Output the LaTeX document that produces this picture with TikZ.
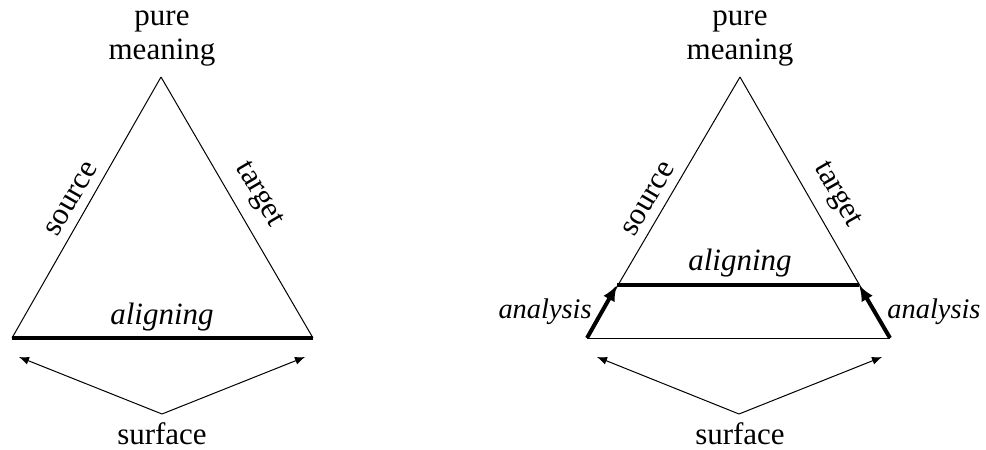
\documentclass[tikz,border=0pt]{standalone}
\usepackage{fontspec}
\setmainfont{Liberation Serif}
\usetikzlibrary{arrows.meta}
\begin{document}
\begin{tikzpicture}[x=0.5pt,y=-0.5pt,
  lbl/.style={font=\fontsize{15.5pt}{17pt}\selectfont, inner sep=1.5pt},
  anlbl/.style={font=\fontsize{14.2pt}{17pt}\selectfont\itshape, inner sep=0pt},
  thin/.style={line width=0.5pt},
  thick line/.style={line width=2pt},
  surfarrow/.style={line width=0.5pt,-{Latex[length=5pt,width=4pt]}},
  anarrow/.style={line width=2pt,-{Latex[length=8pt,width=6.5pt]}}]
\useasboundingbox (0,0) rectangle (986,450);
% ---------- left triangle ----------
\coordinate (LA) at (161,77);
\coordinate (LL) at (12,338);
\coordinate (LR) at (313,338);
\node[lbl,anchor=base] (Lpure) at (162,25) {pure};
\node[lbl,anchor=base] (Lmean) at (162,59) {meaning};
\draw[thin] (LL) -- (LA) node[lbl,midway,sloped,above=3pt] (Lsrc) {source};
\draw[thin] (LA) -- (LR) node[lbl,midway,sloped,above=4.5pt] (Ltgt) {target};
\draw[thick line] (LL) -- (LR);
\node[lbl,anchor=base] (Lalign) at (162,324) {\itshape aligning};
\coordinate (LV) at (162,414);
\coordinate (LVl) at (19,357);
\coordinate (LVr) at (305,357);
\draw[surfarrow] (LV) -- (LVl);
\draw[surfarrow] (LV) -- (LVr);
\node[lbl,anchor=base] (Lsurf) at (162,444) {surface};
% ---------- right triangle ----------
\coordinate (RA) at (740,77);
\coordinate (RL) at (587,338);
\coordinate (RR) at (890,338);
\coordinate (RIl) at (617,285);
\coordinate (RIr) at (859,285);
\node[lbl,anchor=base] (Rpure) at (740,25) {pure};
\node[lbl,anchor=base] (Rmean) at (740,59) {meaning};
\draw[thin] (RL) -- (RA) node[lbl,midway,sloped,above=3pt] (Rsrc) {source};
\draw[thin] (RA) -- (RR) node[lbl,midway,sloped,above=4.5pt] (Rtgt) {target};
\draw[thin] (RL) -- (RR);
\draw[thick line] (RIl) -- (RIr);
\draw[anarrow] (RL) -- (RIl);
\draw[anarrow] (RR) -- (RIr);
\node[lbl,anchor=base] (Ralign) at (740,270) {\itshape aligning};
\node[anlbl,anchor=base east] (Ranl) at (592,318) {analysis};
\node[anlbl,anchor=base west] (Ranr) at (887,318) {analysis};
\coordinate (RV) at (739,414);
\coordinate (RVl) at (597,357);
\coordinate (RVr) at (882,357);
\draw[surfarrow] (RV) -- (RVl);
\draw[surfarrow] (RV) -- (RVr);
\node[lbl,anchor=base] (Rsurf) at (740,444) {surface};
\end{tikzpicture}
\end{document}
